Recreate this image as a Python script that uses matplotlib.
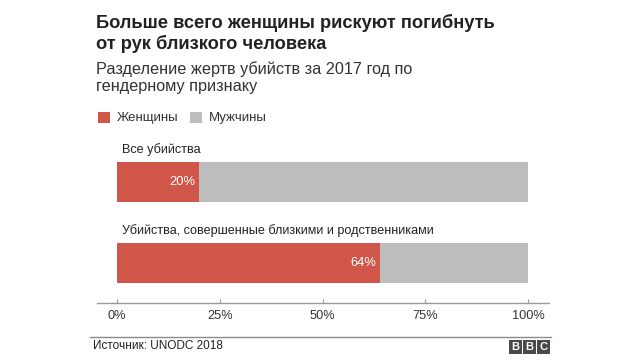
import matplotlib
matplotlib.use("Agg")
import matplotlib.pyplot as plt
from matplotlib.patches import Rectangle
from matplotlib.lines import Line2D

plt.rcParams['font.family'] = ['Liberation Sans', 'DejaVu Sans']

categories = ["Все убийства", "Убийства, совершенные близкими и родственниками"]
women = [20, 64]
men = [80, 36]
series_names = ["Женщины", "Мужчины"]
ticks = [0, 25, 50, 75, 100]
tick_labels = ["0%", "25%", "50%", "75%", "100%"]

RED = "#D0564A"
GRAY = "#BDBDBD"
TXT = "#222222"

W, H = 640, 360
fig = plt.figure(figsize=(6.4, 3.6), dpi=100)
fig.patch.set_facecolor("white")

def fx(px):
    return px / W

def fy(py):
    return 1 - py / H

# axes: pixel x 97..549, y 140..303
ax = fig.add_axes([fx(97), fy(303), fx(549) - fx(97), (303 - 140) / H])
ax.set_xlim(-4.87, 105.1)
ax.set_ylim(1.494, -0.519)
ypos = list(range(len(categories)))
ax.barh(ypos, women, height=0.494, color=RED, linewidth=0)
ax.barh(ypos, men, left=women, height=0.494, color=GRAY, linewidth=0)

for y, cat, w in zip(ypos, categories, women):
    ax.annotate(cat, xy=(0, y - 0.247), xytext=(5, 12), textcoords="offset pixels",
                ha="left", va="center", fontsize=9.05, color=TXT)
    ax.annotate(f"{w}%", xy=(w, y), xytext=(-3.5, 0), textcoords="offset pixels",
                ha="right", va="center", fontsize=9.3, color="white")

for s in ["top", "right", "left"]:
    ax.spines[s].set_visible(False)
ax.spines["bottom"].set_color("#9A9A9A")
ax.spines["bottom"].set_linewidth(1.0)
ax.set_yticks([])
ax.set_xticks(ticks)
ax.set_xticklabels(tick_labels, fontsize=9.2, color="#333333")
ax.tick_params(axis="x", direction="in", length=3, color="#9A9A9A", pad=5)
ax.set_facecolor("none")

# Title and subtitle
fig.text(fx(96), fy(33.5), "Больше всего женщины рискуют погибнуть\nот рук близкого человека",
         ha="left", va="center", fontsize=13.15, fontweight="bold", color=TXT,
         linespacing=1.22)
fig.text(fx(96), fy(77.5), "Разделение жертв убийств за 2017 год по\nгендерному признаку",
         ha="left", va="center", fontsize=11.7, color="#333333", linespacing=1.1)

# Overlay in pixel coordinates
ov = fig.add_axes([0, 0, 1, 1], facecolor="none")
ov.set_xlim(0, W)
ov.set_ylim(H, 0)
ov.axis("off")
legend_x = [98, 190]
for lx, name, col in zip(legend_x, series_names, [RED, GRAY]):
    ov.add_patch(Rectangle((lx, 112), 12, 11, color=col, linewidth=0))
    ov.text(lx + 19, 118, name, ha="left", va="center", fontsize=9.5, color="#333333")

# Footer
ov.add_line(Line2D([90, 551], [337, 337], color="#8A8A8A", linewidth=1.0))
ov.text(93, 346, "Источник: UNODC 2018", ha="left", va="center", fontsize=8.5, color=TXT)
for i, ch in enumerate("BBC"):
    x0 = 509 + i * 14
    ov.add_patch(Rectangle((x0, 340), 12.5, 13.5, color="#4A4A4A", linewidth=0))
    ov.text(x0 + 6.25, 347, ch, ha="center", va="center", fontsize=8,
            fontweight="bold", color="white")

fig.savefig("out.png", dpi=100, facecolor="white")
